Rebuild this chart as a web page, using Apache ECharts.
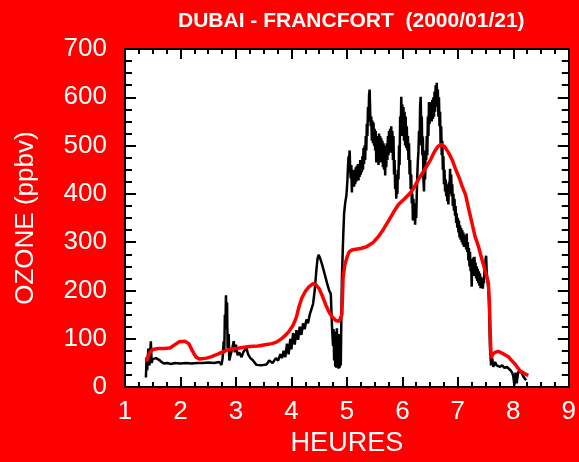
<!DOCTYPE html>
<html>
<head>
<meta charset="utf-8">
<script src="https://cdn.jsdelivr.net/npm/echarts@6/dist/echarts.min.js"></script>
<style>
  html, body { margin: 0; padding: 0; background: #ff0000; }
  #chart { width: 579px; height: 462px; }
</style>
</head>
<body>
<div id="chart"></div>
<script>
// Ozone along the Dubai - Frankfurt flight, 2000/01/21
// Raw measurements (black): time in hours, ozone in ppbv
const ozoneHours = [
  1.377, 1.39, 1.40, 1.42, 1.44, 1.466, 1.48, 1.50, 1.53, 1.56, 1.59, 1.62, 1.66, 1.70, 1.76, 1.83, 1.90,
  2.00, 2.10, 2.20, 2.30, 2.40, 2.50, 2.60, 2.70, 2.74, 2.76, 2.78, 2.79, 2.80, 2.81, 2.82, 2.83, 2.84, 2.85,
  2.87, 2.88, 2.90, 2.93, 2.96, 2.98, 3.00, 3.03, 3.06, 3.10, 3.14, 3.19, 3.22, 3.26, 3.30, 3.37, 3.45, 3.55,
  3.60, 3.66, 3.72, 3.76, 3.80, 3.83, 3.86, 3.89, 3.92, 3.95, 3.98, 4.00, 4.03, 4.06, 4.09, 4.12, 4.15, 4.18,
  4.21, 4.24, 4.27, 4.30, 4.33, 4.36, 4.39, 4.42, 4.45, 4.47, 4.49, 4.52, 4.55, 4.59, 4.62, 4.65, 4.68, 4.71,
  4.73, 4.75, 4.76, 4.77, 4.78, 4.79, 4.80, 4.81, 4.82, 4.83, 4.84, 4.85, 4.86, 4.87, 4.88, 4.89, 4.90, 4.91,
  4.93, 4.95, 4.97,
  4.99, 5.00, 5.01, 5.02, 5.03, 5.04, 5.05, 5.06, 5.07, 5.08, 5.09, 5.10, 5.11, 5.12, 5.13, 5.14, 5.15, 5.16,
  5.17, 5.18, 5.19, 5.20, 5.21, 5.22, 5.23, 5.24, 5.25, 5.26, 5.27, 5.28, 5.29, 5.30, 5.31, 5.32, 5.33, 5.34,
  5.35, 5.36, 5.37, 5.38, 5.39, 5.40, 5.41, 5.42, 5.43, 5.44, 5.45, 5.46, 5.47, 5.48, 5.49, 5.50, 5.51, 5.52,
  5.53, 5.54, 5.55, 5.56, 5.57, 5.58, 5.59, 5.60, 5.61, 5.62, 5.63, 5.64, 5.65, 5.66, 5.67, 5.68, 5.69, 5.70,
  5.71, 5.72, 5.73, 5.74, 5.75, 5.76, 5.77, 5.78, 5.79, 5.80, 5.81, 5.82, 5.83, 5.84, 5.85, 5.86, 5.87, 5.88,
  5.89, 5.90, 5.91, 5.92, 5.93, 5.94, 5.95, 5.96, 5.97, 5.98, 5.99, 6.00, 6.01, 6.02, 6.03, 6.04, 6.05, 6.06,
  6.07, 6.08, 6.09, 6.10, 6.11, 6.12, 6.13, 6.14, 6.15, 6.16, 6.17, 6.18, 6.19, 6.20, 6.21, 6.22, 6.23, 6.24,
  6.25, 6.26, 6.27, 6.28, 6.29, 6.30, 6.31, 6.32, 6.33, 6.34, 6.35, 6.36, 6.37, 6.38, 6.39, 6.40, 6.41, 6.42,
  6.43, 6.44, 6.45, 6.46, 6.47, 6.48, 6.49, 6.50, 6.51, 6.52, 6.53, 6.54, 6.55, 6.56, 6.57, 6.58, 6.59, 6.60,
  6.61, 6.62, 6.63, 6.64, 6.65, 6.66, 6.67, 6.68, 6.69, 6.70, 6.71, 6.72, 6.73, 6.74, 6.75, 6.76, 6.77, 6.78,
  6.79, 6.80, 6.81, 6.82, 6.83, 6.84, 6.85, 6.86, 6.87, 6.88, 6.89, 6.90, 6.91, 6.92, 6.93, 6.94, 6.95, 6.96,
  6.97, 6.98, 6.99, 7.00, 7.01, 7.02, 7.03, 7.04, 7.05, 7.06, 7.07, 7.08, 7.09, 7.10, 7.11, 7.12, 7.13, 7.14,
  7.15, 7.16, 7.17, 7.18, 7.19, 7.20, 7.21, 7.22, 7.23, 7.24, 7.25, 7.26, 7.27, 7.28, 7.29, 7.30, 7.31, 7.32,
  7.33, 7.34, 7.35, 7.36, 7.37, 7.38, 7.39, 7.40, 7.41, 7.42, 7.43, 7.44, 7.45, 7.46, 7.47, 7.48, 7.49, 7.50,
  7.51, 7.52, 7.53, 7.54, 7.55, 7.56,
  7.565, 7.58, 7.60, 7.62, 7.64, 7.67, 7.70, 7.73, 7.76, 7.80, 7.84, 7.88, 7.91, 7.95, 7.98,
  8.00, 8.02, 8.04, 8.06, 8.09, 8.12, 8.15, 8.18, 8.21, 8.23
];
const ozoneValues = [
  20, 62, 35, 80, 45, 95, 50, 58, 55, 60, 62, 56, 52, 49, 50, 48, 50,
  49, 50, 49, 50, 50, 51, 50, 52, 46, 60, 95, 70, 150, 120, 190, 140, 175, 80,
  110, 55, 65, 78, 95, 72, 88, 66, 72, 62, 74, 80, 68, 60, 56, 46, 45, 47,
  55, 50, 60, 55, 68, 60, 75, 62, 90, 68, 100, 78, 112, 88, 118, 98, 125, 108,
  132, 120, 140, 132, 150, 152, 172, 200, 242, 265, 274, 266, 255, 238, 225, 212, 200, 193,
  130, 85, 120, 55, 115, 42, 100, 40, 122, 50, 90, 38, 110, 40, 80, 45, 140, 224,
  300, 360, 382,
  396, 410, 430, 455, 478, 470, 490, 450, 432, 460, 403, 445, 420, 450, 415, 448, 420, 455,
  425, 458, 430, 462, 428, 460, 435, 470, 440, 468, 445, 478, 450, 495, 462, 500, 470, 520,
  490, 545, 520, 580, 550, 605, 616, 570, 540, 560, 510, 552, 505, 548, 500, 535, 490, 530,
  465, 520, 470, 515, 460, 525, 470, 520, 465, 515, 470, 510, 455, 505, 450, 500, 438, 498,
  455, 505, 470, 520, 480, 530, 490, 535, 485, 540, 490, 530, 470, 520, 440, 470, 410, 440,
  390, 420, 400, 450, 430, 500, 460, 560, 520, 601, 540, 585, 520, 580, 510, 570, 500, 560,
  495, 540, 490, 520, 470, 505, 440, 470, 410, 440, 380, 400, 345, 390, 350, 380, 336, 370,
  350, 400, 440, 470, 488, 530, 500, 580, 601, 540, 560, 480, 519, 430, 405, 460, 430, 490,
  470, 520, 480, 560, 520, 590, 545, 585, 550, 590, 550, 595, 555, 600, 560, 612, 570, 625,
  590, 630, 580, 616, 560, 600, 540, 570, 500, 540, 480, 510, 450, 478, 420, 450, 405, 430,
  395, 420, 385, 410, 378, 425, 400, 452, 410, 440, 395, 420, 375, 400, 365, 390, 355, 375,
  340, 360, 330, 350, 320, 345, 310, 335, 305, 330, 300, 325, 295, 320, 290, 315, 290, 312,
  285, 318, 280, 300, 262, 288, 250, 280, 240, 265, 208, 260, 235, 268, 230, 270, 235, 258,
  225, 250, 220, 245, 215, 240, 210, 235, 205, 228, 205, 225, 204, 220, 215, 245, 230, 265,
  272, 240, 225, 215, 205, 180,
  156, 80, 45, 60, 42, 52, 45, 48, 42, 45, 40, 42, 38, 35, 30,
  22, 4, 30, 8, 32, 28, 30, 22, 18, 14
];

// Smoothed profile (red)
const smoothHours = [
  1.39, 1.42, 1.45, 1.50, 1.60, 1.70, 1.81, 1.90, 1.98, 2.08, 2.15, 2.22, 2.28, 2.35, 2.47, 2.56, 2.65, 2.74,
  2.83, 2.92, 3.01, 3.12, 3.24, 3.40, 3.55, 3.65, 3.73, 3.83, 3.90, 3.96, 4.03, 4.09, 4.14, 4.19, 4.25, 4.32,
  4.39, 4.44, 4.50, 4.56, 4.62, 4.68, 4.73, 4.80, 4.86, 4.89, 4.91, 4.93, 4.96, 5.00, 5.04, 5.09, 5.13, 5.25,
  5.36, 5.48, 5.57, 5.66, 5.75, 5.84, 5.93, 6.04, 6.15, 6.22, 6.29, 6.40, 6.51, 6.58, 6.64, 6.70, 6.76, 6.83,
  6.90, 6.96, 7.03, 7.08, 7.14, 7.19, 7.25, 7.31, 7.37, 7.44, 7.50, 7.55, 7.57, 7.585, 7.60, 7.63, 7.67, 7.73,
  7.80, 7.91, 7.97, 8.03, 8.12, 8.20, 8.27
];
const smoothValues = [
  53, 65, 72, 78, 80, 80, 81, 88, 94, 95, 90, 74, 62, 58, 60, 63, 67, 72,
  76, 79, 80, 82, 84, 85, 88, 90, 93, 101, 108, 116, 128, 145, 168, 185, 198, 208,
  214, 212, 204, 188, 170, 155, 146, 138, 136, 140, 150, 224, 252, 268, 280, 284, 285, 287,
  291, 300, 312, 327, 344, 362, 378, 390, 403, 415, 430, 450, 471, 488, 498, 502, 498, 486,
  470, 451, 432, 415, 398, 372, 342, 312, 292, 262, 238, 216, 175, 110, 60, 68, 72, 74,
  70, 63, 55, 48, 34, 28, 24
];

const hourTicks = { min: 1, max: 9, interval: 1 };
const ozoneTicks = { min: 0, max: 700, interval: 100 };

const FONT = 'Liberation Sans';

function pairs(xs, ys) {
  return xs.map((x, i) => [x, ys[i]]);
}

function axisStyle(extra) {
  return Object.assign({
    type: 'value',
    axisLine: { show: true, onZero: false, lineStyle: { color: '#000', width: 2 } },
    splitLine: { show: false },
    minorSplitLine: { show: false }
  }, extra);
}

const xTick = { show: true, inside: true, length: 10, lineStyle: { color: '#000', width: 2 } };
const xMinor = { show: true, splitNumber: 4, length: 5, lineStyle: { color: '#000', width: 2 } };
const yTick = { show: true, inside: true, length: 11, lineStyle: { color: '#000', width: 2 } };
const yMinor = { show: true, splitNumber: 4, length: 7, lineStyle: { color: '#000', width: 2 } };

const chart = echarts.init(document.getElementById('chart'), null, { renderer: 'canvas' });

chart.setOption({
  backgroundColor: '#ff0000',
  animation: false,
  title: {
    text: 'DUBAI - FRANCFORT  (2000/01/21)',
    left: 173,
    top: 6,
    textStyle: { color: '#fff', fontSize: 21, fontWeight: 'bold', fontFamily: FONT }
  },
  grid: {
    left: 125, right: 8, top: 49, bottom: 73,
    show: true, backgroundColor: '#fff', borderWidth: 0
  },
  xAxis: [
    axisStyle({
      position: 'bottom',
      min: hourTicks.min, max: hourTicks.max, interval: hourTicks.interval,
      name: 'HEURES', nameLocation: 'middle', nameGap: 42,
      nameTextStyle: { color: '#fff', fontSize: 27, fontFamily: FONT },
      axisTick: xTick, minorTick: xMinor,
      axisLabel: { color: '#fff', fontSize: 26, fontFamily: FONT, margin: 12 }
    }),
    axisStyle({
      position: 'top',
      min: hourTicks.min, max: hourTicks.max, interval: hourTicks.interval,
      axisTick: xTick, minorTick: xMinor,
      axisLabel: { show: false }
    })
  ],
  yAxis: [
    axisStyle({
      position: 'left',
      min: ozoneTicks.min, max: ozoneTicks.max, interval: ozoneTicks.interval,
      name: 'OZONE (ppbv)', nameLocation: 'middle', nameGap: 86,
      nameTextStyle: { color: '#fff', fontSize: 26, fontFamily: FONT },
      axisTick: yTick, minorTick: yMinor,
      axisLabel: { color: '#fff', fontSize: 26, fontFamily: FONT, margin: 18 }
    }),
    axisStyle({
      position: 'right',
      min: ozoneTicks.min, max: ozoneTicks.max, interval: ozoneTicks.interval,
      axisTick: yTick, minorTick: yMinor,
      axisLabel: { show: false }
    })
  ],
  series: [
    {
      name: 'mesures',
      type: 'line',
      xAxisIndex: 0, yAxisIndex: 0,
      data: pairs(ozoneHours, ozoneValues),
      showSymbol: false, symbol: 'none',
      lineStyle: { color: '#000', width: 2.5 },
      z: 2
    },
    {
      name: 'lissage',
      type: 'line',
      xAxisIndex: 0, yAxisIndex: 0,
      data: pairs(smoothHours, smoothValues),
      showSymbol: false, symbol: 'none',
      lineStyle: { color: '#ff0000', width: 3.5 },
      z: 3
    }
  ]
});
</script>
</body>
</html>
